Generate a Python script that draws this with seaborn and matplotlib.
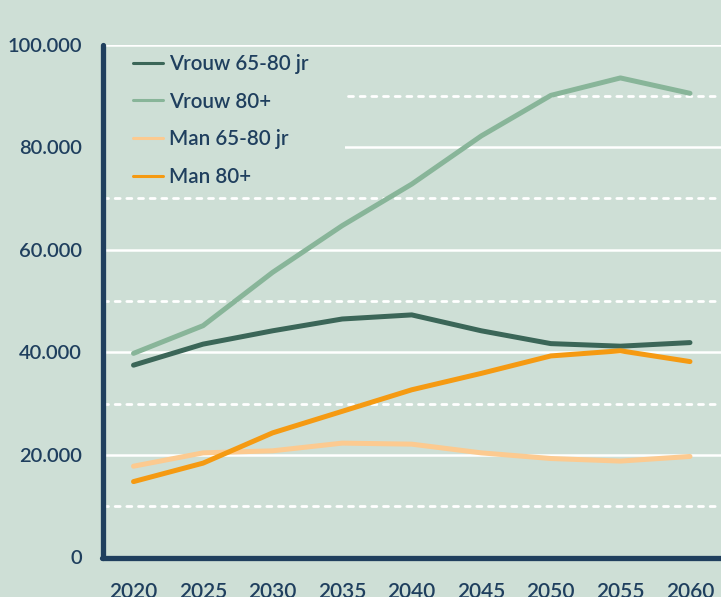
import matplotlib
matplotlib.use("Agg")
import matplotlib.pyplot as plt
from matplotlib.ticker import FixedLocator
from matplotlib.patches import Rectangle
import seaborn as sns
import pandas as pd

# ---- data ----
years = [2020, 2025, 2030, 2035, 2040, 2045, 2050, 2055, 2060]
vrouw_65_80 = [37500, 41600, 44200, 46500, 47300, 44200, 41700, 41200, 41900]
vrouw_80 = [39800, 45200, 55600, 64700, 72800, 82200, 90100, 93500, 90500]
man_65_80 = [17800, 20400, 20800, 22300, 22100, 20400, 19300, 18800, 19700]
man_80 = [14800, 18400, 24300, 28500, 32700, 35900, 39300, 40300, 38200]
series_labels = ["Vrouw 65-80 jr", "Vrouw 80+", "Man 65-80 jr", "Man 80+"]
series_colors = ["#3b6658", "#88b599", "#fcca90", "#f59a12"]
y_ticks = [0, 20000, 40000, 60000, 80000, 100000]
y_tick_labels = ["0", "20.000", "40.000", "60.000", "80.000", "100.000"]
y_minor = [10000, 30000, 50000, 70000, 90000]

rows = []
for lab, vals in zip(series_labels, [vrouw_65_80, vrouw_80, man_65_80, man_80]):
    for yr, v in zip(years, vals):
        rows.append({"jaar": yr, "aantal": v, "groep": lab})
df = pd.DataFrame(rows)

BG = "#cedfd6"
NAVY = "#1f3f5e"

sns.set_style("white")
plt.rcParams["font.family"] = ["Lato", "DejaVu Sans"]

W, H = 721, 597
fig = plt.figure(figsize=(W / 100, H / 100), dpi=100, facecolor=BG)
ax_l, ax_b, ax_t = 102.5, 557.5, 44.6
ax = fig.add_axes([ax_l / W, 1 - ax_b / H, 1 - ax_l / W, (ax_b - ax_t) / H])
ax.set_facecolor(BG)

sns.lineplot(data=df, x="jaar", y="aantal", hue="groep", hue_order=series_labels,
             palette=series_colors, linewidth=3.6, ax=ax, legend=True,
             solid_capstyle="round", solid_joinstyle="round", zorder=3)

ax.set_xlim(2017.77, 2062.23)
ax.set_ylim(0, 100000)
ax.set_xticks(years)
ax.set_xticklabels([str(y) for y in years])
ax.yaxis.set_major_locator(FixedLocator(y_ticks))
ax.set_yticklabels(y_tick_labels)
ax.yaxis.set_minor_locator(FixedLocator(y_minor))

ax.grid(False)
ax.grid(which="major", axis="y", color="white", linewidth=1.8, zorder=1)
ax.grid(which="minor", axis="y", color="white", linewidth=2.0,
        linestyle=(0, (1.8, 2.4)), dash_capstyle="round", zorder=1)
ax.set_axisbelow(True)

for s in ["top", "right"]:
    ax.spines[s].set_visible(False)
for s in ["left", "bottom"]:
    ax.spines[s].set_color(NAVY)
    ax.spines[s].set_linewidth(3.8)
    ax.spines[s].set_capstyle("round")
    ax.spines[s].set_zorder(6)

ax.tick_params(axis="x", length=8, width=3.6, color=NAVY, pad=10,
               labelsize=15, labelcolor=NAVY)
ax.tick_params(axis="y", which="both", length=0, pad=15, labelsize=14.5, labelcolor=NAVY)
for t in ax.get_xticklabels() + ax.get_yticklabels():
    t.set_fontweight("semibold")

ax.set_xlabel("")
ax.set_ylabel("")

# legend background box (hides grid lines behind the legend)
aw, ah = W - ax_l, ax_b - ax_t
ax.add_patch(Rectangle(((105 - ax_l) / aw, 1 - (190 - ax_t) / ah),
                       (345 - 105) / aw, (190 - 48) / ah,
                       transform=ax.transAxes, facecolor=BG, edgecolor="none",
                       zorder=2))

fs = 14.8
leg = ax.legend(loc="upper left", bbox_to_anchor=((133 - ax_l) / aw, 1 - (54 - ax_t) / ah),
                frameon=False, fontsize=fs, handlelength=30 / (fs * 100 / 72),
                handletextpad=0.3, labelspacing=0.86, borderpad=0.0, borderaxespad=0.0)
for h in leg.get_lines():
    h.set_linewidth(2.2)
for t in leg.get_texts():
    t.set_color(NAVY)
    t.set_fontweight("semibold")
leg.set_zorder(5)

fig.savefig("out.png", dpi=100, facecolor=BG)
